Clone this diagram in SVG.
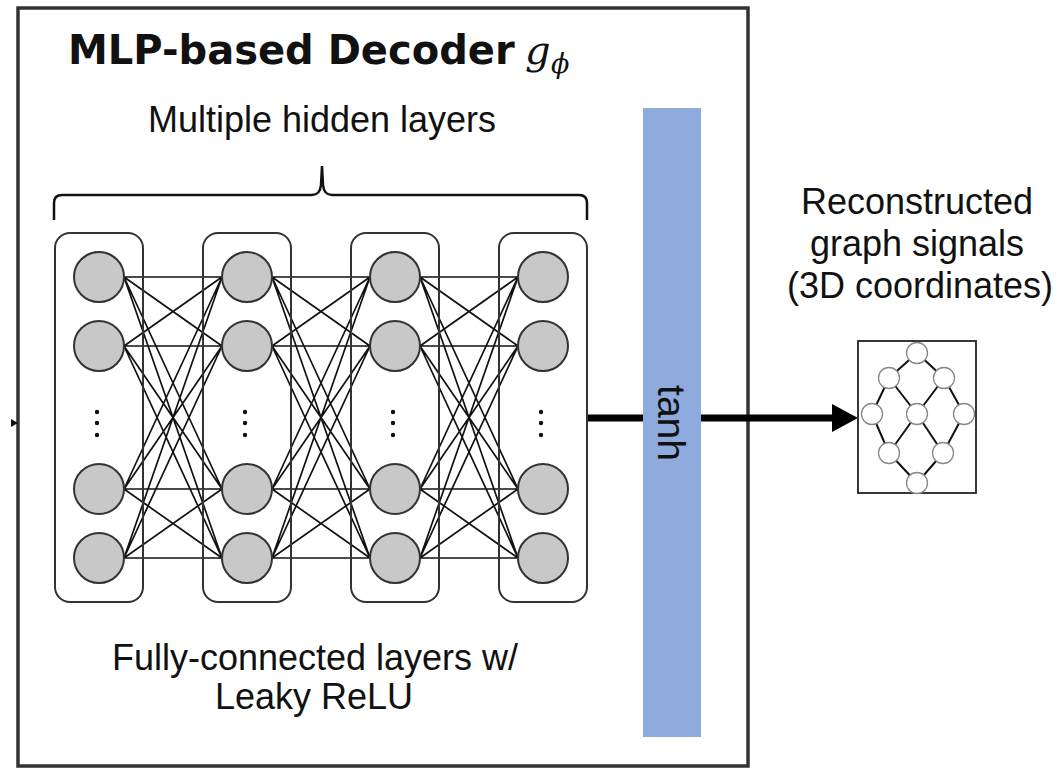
<svg xmlns="http://www.w3.org/2000/svg" width="1064" height="768" viewBox="0 0 1064 768">
  <style>
    .txt { font-family: "Liberation Sans", Arial, sans-serif; fill: #111; }
    .math { font-family: "DejaVu Serif", "Liberation Serif", serif; font-style: italic; fill: #111; }
    .layerbox { fill: none; stroke: #333; stroke-width: 2; }
    .neuron { fill: #c8c8c8; stroke: #333; stroke-width: 2; }
    .dot { fill: #111; }
    .fc { fill: none; stroke: #111; stroke-width: 1.7; }
    .gnode { fill: #fff; stroke: #888; stroke-width: 1.3; }
    .gedge { fill: none; stroke: #111; stroke-width: 2; }
  </style>
  <rect width="1064" height="768" fill="#fff"/>

  <g id="decoder-frame">
    <rect x="18" y="8" width="730" height="758" fill="none" stroke="#333" stroke-width="3.5"/>
    <polygon points="11,419 18,423 11,427" fill="#111"/>
  </g>

  <g id="title">
    <text x="68" y="64" font-family="'DejaVu Sans', Verdana, sans-serif" font-weight="bold" font-size="40" fill="#111">MLP-based Decoder</text>
    <text class="math" x="525" y="64" font-size="40">g</text>
    <text class="math" x="551" y="73" font-size="27">ϕ</text>
  </g>

  <g id="hidden-label">
    <text class="txt" x="322" y="132" font-size="36" text-anchor="middle">Multiple hidden layers</text>
    <path d="M54 220 L54 203 Q54 195 62 195 L312 195 Q320 195 321 185 L322 166 L323 185 Q324 195 332 195 L579 195 Q587 195 587 203 L587 220" fill="none" stroke="#111" stroke-width="2.5"/>
  </g>

  <g id="connectors">
    <path class="fc" d="M124 277L222 277M124 277L222 346M124 277L222 489M124 277L222 558M124 346L222 277M124 346L222 346M124 346L222 489M124 346L222 558M124 489L222 277M124 489L222 346M124 489L222 489M124 489L222 558M124 558L222 277M124 558L222 346M124 558L222 489M124 558L222 558"/>
    <path class="fc" d="M272 277L370 277M272 277L370 346M272 277L370 489M272 277L370 558M272 346L370 277M272 346L370 346M272 346L370 489M272 346L370 558M272 489L370 277M272 489L370 346M272 489L370 489M272 489L370 558M272 558L370 277M272 558L370 346M272 558L370 489M272 558L370 558"/>
    <path class="fc" d="M420 277L518 277M420 277L518 346M420 277L518 489M420 277L518 558M420 346L518 277M420 346L518 346M420 346L518 489M420 346L518 558M420 489L518 277M420 489L518 346M420 489L518 489M420 489L518 558M420 558L518 277M420 558L518 346M420 558L518 489M420 558L518 558"/>
    <line x1="587" y1="418" x2="643" y2="418" stroke="#000" stroke-width="7"/>
    <line x1="701" y1="418" x2="834" y2="418" stroke="#000" stroke-width="7"/>
    <polygon points="832,404 858,418 832,432" fill="#000"/>
  </g>

  <g id="layer1">
    <rect class="layerbox" x="55" y="233" width="88" height="369" rx="15"/>
    <circle class="neuron" cx="99" cy="277" r="25"/>
    <circle class="neuron" cx="99" cy="346" r="25"/>
    <circle class="neuron" cx="99" cy="489" r="25"/>
    <circle class="neuron" cx="99" cy="558" r="25"/>
    <circle class="dot" cx="97" cy="412" r="2.2"/><circle class="dot" cx="97" cy="423" r="2.2"/><circle class="dot" cx="97" cy="435" r="2.2"/>
  </g>
  <g id="layer2">
    <rect class="layerbox" x="203" y="233" width="88" height="369" rx="15"/>
    <circle class="neuron" cx="247" cy="277" r="25"/>
    <circle class="neuron" cx="247" cy="346" r="25"/>
    <circle class="neuron" cx="247" cy="489" r="25"/>
    <circle class="neuron" cx="247" cy="558" r="25"/>
    <circle class="dot" cx="245" cy="412" r="2.2"/><circle class="dot" cx="245" cy="423" r="2.2"/><circle class="dot" cx="245" cy="435" r="2.2"/>
  </g>
  <g id="layer3">
    <rect class="layerbox" x="351" y="233" width="88" height="369" rx="15"/>
    <circle class="neuron" cx="395" cy="277" r="25"/>
    <circle class="neuron" cx="395" cy="346" r="25"/>
    <circle class="neuron" cx="395" cy="489" r="25"/>
    <circle class="neuron" cx="395" cy="558" r="25"/>
    <circle class="dot" cx="393" cy="412" r="2.2"/><circle class="dot" cx="393" cy="423" r="2.2"/><circle class="dot" cx="393" cy="435" r="2.2"/>
  </g>
  <g id="layer4">
    <rect class="layerbox" x="499" y="233" width="88" height="369" rx="15"/>
    <circle class="neuron" cx="543" cy="277" r="25"/>
    <circle class="neuron" cx="543" cy="346" r="25"/>
    <circle class="neuron" cx="543" cy="489" r="25"/>
    <circle class="neuron" cx="543" cy="558" r="25"/>
    <circle class="dot" cx="541" cy="412" r="2.2"/><circle class="dot" cx="541" cy="423" r="2.2"/><circle class="dot" cx="541" cy="435" r="2.2"/>
  </g>

  <g id="fc-label">
    <text class="txt" x="315" y="670" font-size="36" text-anchor="middle">Fully-connected layers w/</text>
    <text class="txt" x="314" y="709" font-size="36" text-anchor="middle">Leaky ReLU</text>
  </g>

  <g id="tanh">
    <rect x="643" y="108" width="58" height="629" fill="#8faadc"/>
    <text class="txt" transform="translate(658,423) rotate(90)" font-size="39" text-anchor="middle">tanh</text>
  </g>

  <g id="output-label">
    <text class="txt" x="917" y="214" font-size="36" text-anchor="middle">Reconstructed</text>
    <text class="txt" x="917" y="256" font-size="36" text-anchor="middle">graph signals</text>
    <text class="txt" x="920" y="298" font-size="36" text-anchor="middle">(3D coordinates)</text>
  </g>

  <g id="output-graph">
    <rect x="858" y="341" width="118" height="152" fill="#fff" stroke="#222" stroke-width="1.8"/>
    <path class="gedge" d="M917 353L889 378M917 353L944 378M889 378L872 414M889 378L917 414M944 378L917 414M944 378L964 414M872 414L889 453M917 414L889 453M917 414L943 453M964 414L943 453M889 453L917 483M943 453L917 483"/>
    <circle class="gnode" cx="917" cy="353" r="10.5"/>
    <circle class="gnode" cx="889" cy="378" r="10.5"/>
    <circle class="gnode" cx="944" cy="378" r="10.5"/>
    <circle class="gnode" cx="872" cy="414" r="10.5"/>
    <circle class="gnode" cx="917" cy="414" r="10.5"/>
    <circle class="gnode" cx="964" cy="414" r="10.5"/>
    <circle class="gnode" cx="889" cy="453" r="10.5"/>
    <circle class="gnode" cx="943" cy="453" r="10.5"/>
    <circle class="gnode" cx="917" cy="483" r="10.5"/>
  </g>
</svg>
